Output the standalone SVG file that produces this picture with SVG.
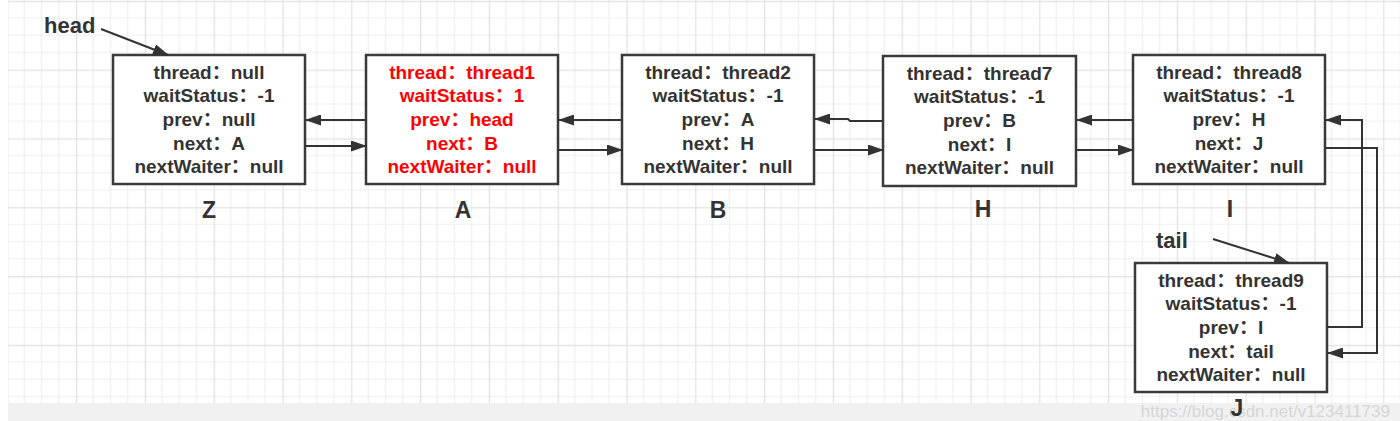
<svg xmlns="http://www.w3.org/2000/svg" width="1400" height="421" viewBox="0 0 1400 421">
<defs>
<pattern id="grid" x="7.2" y="0.8" width="68.8" height="68.8" patternUnits="userSpaceOnUse">
<path d="M17.2,0 V68.8 M34.4,0 V68.8 M51.6,0 V68.8 M0,17.2 H68.8 M0,34.4 H68.8 M0,51.6 H68.8" stroke="#efefef" stroke-width="1.2" fill="none"/>
<path d="M0.6,0 V68.8 M0,0.6 H68.8" stroke="#e2e2e2" stroke-width="1.3" fill="none"/>
</pattern>
<marker id="arr" viewBox="0 0 16 11" refX="15" refY="5.5" markerWidth="16" markerHeight="11" markerUnits="userSpaceOnUse" orient="auto">
<path d="M0,0 L16,5.5 L0,11 Z" fill="#333"/>
</marker>
</defs>
<style>
.box{fill:#fff;stroke:#3a3a3a;stroke-width:2.5}
.t{font-family:"Liberation Sans","Noto Sans CJK SC",sans-serif;font-size:19px;font-weight:bold;fill:#333;text-anchor:middle}
.red .t{fill:#f00}
.lbl{font-family:"Liberation Sans",sans-serif;font-size:23px;font-weight:bold;fill:#333;text-anchor:middle}
.ptr{font-family:"Liberation Sans",sans-serif;font-size:22px;font-weight:bold;fill:#333}
.c{fill:none;stroke:#333;stroke-width:2;marker-end:url(#arr)}
</style>
<rect x="0" y="0" width="1400" height="421" fill="#fff"/>
<rect x="8" y="0" width="1392" height="403" fill="url(#grid)"/>
<rect x="8" y="403" width="1392" height="18" fill="#f1f1f1"/>
<text x="1390" y="417" font-family="Liberation Sans,sans-serif" font-size="17" fill="#d6d6d6" text-anchor="end">https://blog.csdn.net/v123411739</text>

<g id="Z">
<rect class="box" x="113" y="55" width="192" height="129"/>
<text class="t" x="209" y="78.5">thread：null</text>
<text class="t" x="209" y="102.2">waitStatus：-1</text>
<text class="t" x="209" y="125.9">prev：null</text>
<text class="t" x="209" y="149.6">next：A</text>
<text class="t" x="209" y="173.3">nextWaiter：null</text>
<text class="lbl" x="209" y="218">Z</text>
</g>
<g id="A" class="red">
<rect class="box" x="366" y="55" width="192" height="129"/>
<text class="t" x="462" y="78.5">thread：thread1</text>
<text class="t" x="462" y="102.2">waitStatus：1</text>
<text class="t" x="462" y="125.9">prev：head</text>
<text class="t" x="462" y="149.6">next：B</text>
<text class="t" x="462" y="173.3">nextWaiter：null</text>
<text class="lbl" x="463" y="218">A</text>
</g>
<g id="B">
<rect class="box" x="622" y="55" width="192" height="129"/>
<text class="t" x="718" y="78.5">thread：thread2</text>
<text class="t" x="718" y="102.2">waitStatus：-1</text>
<text class="t" x="718" y="125.9">prev：A</text>
<text class="t" x="718" y="149.6">next：H</text>
<text class="t" x="718" y="173.3">nextWaiter：null</text>
<text class="lbl" x="718" y="218">B</text>
</g>
<g id="H">
<rect class="box" x="883" y="56" width="193" height="130"/>
<text class="t" x="979.5" y="79.5">thread：thread7</text>
<text class="t" x="979.5" y="103.2">waitStatus：-1</text>
<text class="t" x="979.5" y="126.9">prev：B</text>
<text class="t" x="979.5" y="150.6">next：I</text>
<text class="t" x="979.5" y="174.3">nextWaiter：null</text>
<text class="lbl" x="983" y="217">H</text>
</g>
<g id="I">
<rect class="box" x="1133" y="55" width="192" height="129"/>
<text class="t" x="1229" y="78.5">thread：thread8</text>
<text class="t" x="1229" y="102.2">waitStatus：-1</text>
<text class="t" x="1229" y="125.9">prev：H</text>
<text class="t" x="1229" y="149.6">next：J</text>
<text class="t" x="1229" y="173.3">nextWaiter：null</text>
<text class="lbl" x="1230" y="217">I</text>
</g>
<g id="J">
<rect class="box" x="1135" y="263" width="192" height="129"/>
<text class="t" x="1231" y="286.5">thread：thread9</text>
<text class="t" x="1231" y="310.2">waitStatus：-1</text>
<text class="t" x="1231" y="333.9">prev：I</text>
<text class="t" x="1231" y="357.6">next：tail</text>
<text class="t" x="1231" y="381.3">nextWaiter：null</text>
<text class="lbl" x="1237" y="416" font-size="21">J</text>
</g>
<g id="head">
<text class="ptr" x="44" y="33">head</text>
</g>
<g id="tail">
<text class="ptr" x="1156" y="248">tail</text>
</g>

<g id="connectors">
<path class="c" d="M101,29 L168,55"/>
<path class="c" d="M1213,239 L1289,263"/>
<path class="c" d="M366,120 L306,120"/>
<path class="c" d="M305,146 L366,146"/>
<path class="c" d="M622,120 L559,120"/>
<path class="c" d="M558,150 L622,150"/>
<path class="c" d="M883,121 L850,121 L848,119 L815,119"/>
<path class="c" d="M814,150 L883,150"/>
<path class="c" d="M1133,120 L1077,120"/>
<path class="c" d="M1076,150 L1133,150"/>
<path class="c" d="M1325,148 L1377,148 L1377,353 L1328,353"/>
<path class="c" d="M1327,327 L1362,327 L1362,120 L1326,120"/>
</g>
</svg>
